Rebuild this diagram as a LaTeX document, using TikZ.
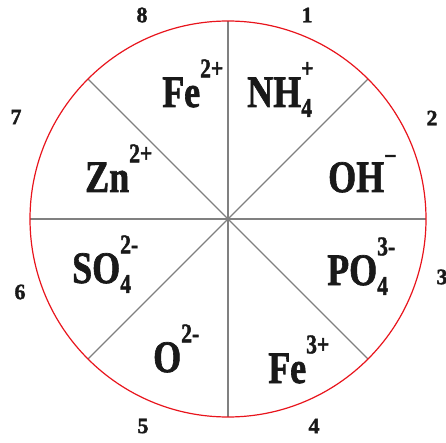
\documentclass[tikz,border=0pt]{standalone}
\usepackage{fontspec}
\setmainfont{Liberation Serif}
\newfontfamily\heavy{Liberation Serif Bold}[FakeBold=1.6]
\usepackage{graphicx}
\newcommand\ionbig{\fontsize{45}{50}\selectfont\heavy}
\newcommand\ionsml{\fontsize{27}{30}\selectfont\heavy}
\newcommand\ionlbl[3]{\scalebox{0.8}[1]{\ionbig #1\rlap{\raisebox{0.66em}{\ionsml #3}}\raisebox{-0.22em}{\ionsml #2}}}
\definecolor{ringred}{RGB}{232,20,28}
\definecolor{spokegray}{RGB}{128,128,128}
\begin{document}
\begin{tikzpicture}[x=1pt,y=-1pt,
  ion/.style={anchor=base west,inner sep=0pt,text=black!90},
  num/.style={inner sep=0pt,font=\fontsize{22}{24}\selectfont\heavy,text=black!90},
  spoke/.style={draw=spokegray,line width=1.2pt},
  ring/.style={draw=ringred,line width=1.2pt}]
\useasboundingbox (0,0) rectangle (446,443);
\coordinate (c) at (228,219);
\foreach \a in {0,45,...,315}{\draw[spoke] (c) -- ++(\a:198);}
\draw[ring] (c) circle (198);
% ions
\node[ion] (fe2) at (162,107) {\ionlbl{Fe}{}{2+}};
\node[ion] (nh4) at (247,107) {\ionlbl{NH}{4}{+}};
\node[ion] (oh) at (328,192) {\ionlbl{OH}{}{\raisebox{-0.1em}{−}}};
\node[ion] (zn) at (85,192) {\ionlbl{Zn}{}{2+}};
\node[ion] (so4) at (72,283) {\ionlbl{SO}{4}{2-}};
\node[ion] (po4) at (327,285) {\ionlbl{PO}{4}{3-}};
\node[ion] (o2) at (153,372) {\ionlbl{O}{}{2-}};
\node[ion] (fe3) at (268,383) {\ionlbl{Fe}{}{3+}};
% numbers
\node[num] (n1) at (307,15) {1};
\node[num] (n2) at (432,118) {2};
\node[num] (n3) at (442,277) {3};
\node[num] (n4) at (314,426) {4};
\node[num] (n5) at (143,426) {5};
\node[num] (n6) at (20,292) {6};
\node[num] (n7) at (16,117) {7};
\node[num] (n8) at (142,15) {8};
\end{tikzpicture}
\end{document}
